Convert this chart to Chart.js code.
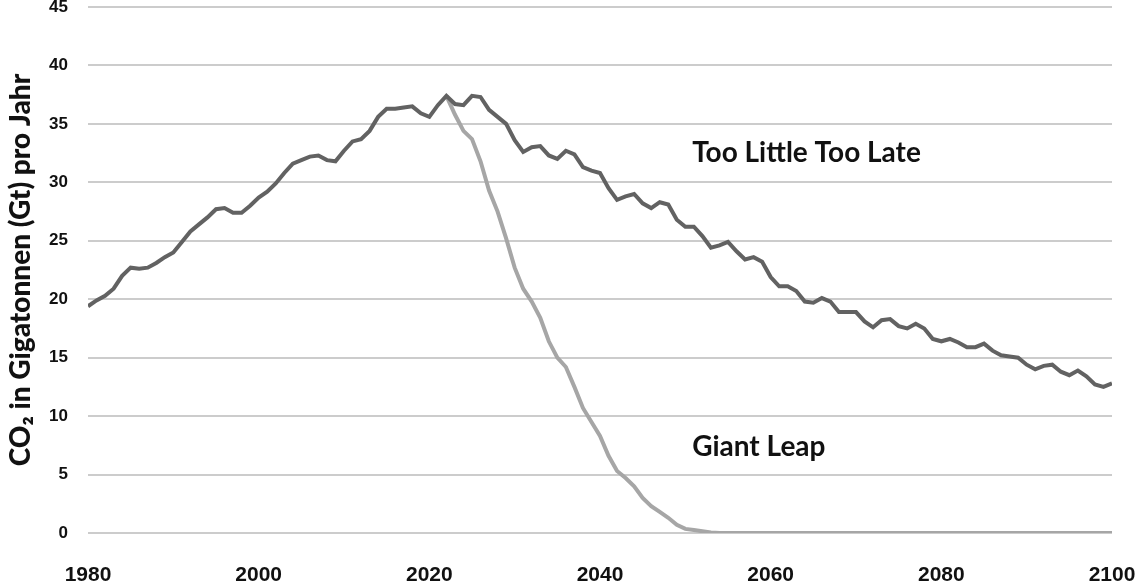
<!DOCTYPE html>
<html>
<head>
<meta charset="utf-8">
<script src="https://cdn.jsdelivr.net/npm/chart.js@4"></script>
<style>
  html, body { margin: 0; padding: 0; background: #fff; }
  #wrap { width: 1135px; height: 586px; position: relative; }
</style>
</head>
<body>
<div id="wrap"><canvas id="c" width="1135" height="586"></canvas></div>
<script>
const startYear = 1980;
const endYear = 2100;
const xTicks = [1980, 2000, 2020, 2040, 2060, 2080, 2100];
const yTicks = [0, 5, 10, 15, 20, 25, 30, 35, 40, 45];

const tooLittleTooLate = [
  19.4, 19.9, 20.3, 20.9, 22.0, 22.7, 22.6, 22.7, 23.1, 23.6,
  24.0, 24.9, 25.8, 26.4, 27.0, 27.7, 27.8, 27.4, 27.4, 28.0,
  28.7, 29.2, 29.9, 30.8, 31.6, 31.9, 32.2, 32.3, 31.9, 31.8,
  32.7, 33.5, 33.7, 34.4, 35.6, 36.3, 36.3, 36.4, 36.5, 35.9,
  35.6, 36.6, 37.4, 36.7, 36.6, 37.4, 37.3, 36.2, 35.6, 35.0,
  33.6, 32.6, 33.0, 33.1, 32.3, 32.0, 32.7, 32.4, 31.3, 31.0,
  30.8, 29.5, 28.5, 28.8, 29.0, 28.2, 27.8, 28.3, 28.1, 26.8,
  26.2, 26.2, 25.4, 24.4, 24.6, 24.9, 24.1, 23.4, 23.6, 23.2,
  21.9, 21.1, 21.1, 20.7, 19.8, 19.7, 20.1, 19.8, 18.9, 18.9,
  18.9, 18.1, 17.6, 18.2, 18.3, 17.7, 17.5, 17.9, 17.5, 16.6,
  16.4, 16.6, 16.3, 15.9, 15.9, 16.2, 15.6, 15.2, 15.1, 15.0,
  14.4, 14.0, 14.3, 14.4, 13.8, 13.5, 13.9, 13.4, 12.7, 12.5,
  12.8
];

const giantLeapStart = 2022;
const giantLeap = [
  37.4, 35.8, 34.4, 33.7, 31.8, 29.3, 27.5, 25.2, 22.7, 20.9,
  19.8, 18.4, 16.4, 15.0, 14.2, 12.5, 10.7, 9.5, 8.3, 6.6,
  5.3, 4.7, 4.0, 3.0, 2.3, 1.8, 1.3, 0.7, 0.35, 0.25,
  0.15, 0.05, 0, 0, 0, 0, 0, 0, 0, 0,
  0, 0, 0, 0, 0, 0, 0, 0, 0, 0,
  0, 0, 0, 0, 0, 0, 0, 0, 0, 0,
  0, 0, 0, 0, 0, 0, 0, 0, 0, 0,
  0, 0, 0, 0, 0, 0, 0, 0, 0
];

const seriesLabels = [
  { text: 'Too Little Too Late', x: 2050.8, y: 32.5 },
  { text: 'Giant Leap', x: 2050.8, y: 7.4 }
];
const yTitle = 'CO\u2082 in Gigatonnen (Gt) pro Jahr';

const tlData = tooLittleTooLate.map((v, i) => ({ x: startYear + i, y: v }));
const glData = giantLeap.map((v, i) => ({ x: giantLeapStart + i, y: v }));

const labelPlugin = {
  id: 'seriesLabels',
  afterDatasetsDraw(chart) {
    const ctx = chart.ctx;
    const xs = chart.scales.x, ys = chart.scales.y;
    ctx.save();
    ctx.font = 'bold 28px Lato, "Open Sans", sans-serif';
    ctx.fillStyle = '#111';
    ctx.textAlign = 'left';
    ctx.textBaseline = 'middle';
    seriesLabels.forEach(l => {
      ctx.fillText(l.text, xs.getPixelForValue(l.x), ys.getPixelForValue(l.y));
    });
    ctx.restore();
  }
};

new Chart(document.getElementById('c'), {
  type: 'line',
  data: {
    datasets: [
      {
        label: 'Giant Leap',
        data: glData,
        borderColor: '#a6a6a6',
        borderWidth: 4,
        pointRadius: 0,
        tension: 0,
        fill: false,
        order: 2
      },
      {
        label: 'Too Little Too Late',
        data: tlData,
        borderColor: '#626262',
        borderWidth: 4,
        pointRadius: 0,
        tension: 0,
        fill: false,
        order: 1
      }
    ]
  },
  options: {
    responsive: false,
    animation: false,
    events: [],
    layout: { padding: { top: 7, right: 23, left: 0, bottom: 0 } },
    plugins: {
      legend: { display: false },
      tooltip: { enabled: false }
    },
    scales: {
      x: {
        type: 'linear',
        min: startYear,
        max: endYear,
        afterBuildTicks(scale) { scale.ticks = xTicks.map(v => ({ value: v })); },
        grid: { display: false, drawTicks: false },
        border: { display: false },
        ticks: {
          maxRotation: 0,
          autoSkip: false,
          padding: 30,
          color: '#111',
          font: { family: '"Liberation Sans Narrow", "Arial Narrow", sans-serif', size: 21, weight: 'bold' },
          callback: v => String(v)
        },
        afterFit(scale) { scale.height = 53; scale.paddingLeft = 0; scale.paddingRight = 0; }
      },
      y: {
        min: 0,
        max: 45,
        afterBuildTicks(scale) { scale.ticks = yTicks.map(v => ({ value: v })); },
        grid: { color: '#cccccc', lineWidth: 2, drawTicks: false },
        border: { display: false },
        ticks: {
          padding: 20,
          color: '#111',
          font: { family: '"Liberation Sans Narrow", "Arial Narrow", sans-serif', size: 17, weight: 'bold' }
        },
        title: {
          display: true,
          text: yTitle,
          color: '#111',
          padding: { top: 4, bottom: 8 },
          font: { family: 'Lato, "Open Sans", sans-serif', size: 28, weight: '900' }
        },
        afterFit(scale) { scale.width = 88; scale.paddingTop = 0; scale.paddingBottom = 0; }
      }
    }
  },
  plugins: [labelPlugin]
});
</script>
</body>
</html>
